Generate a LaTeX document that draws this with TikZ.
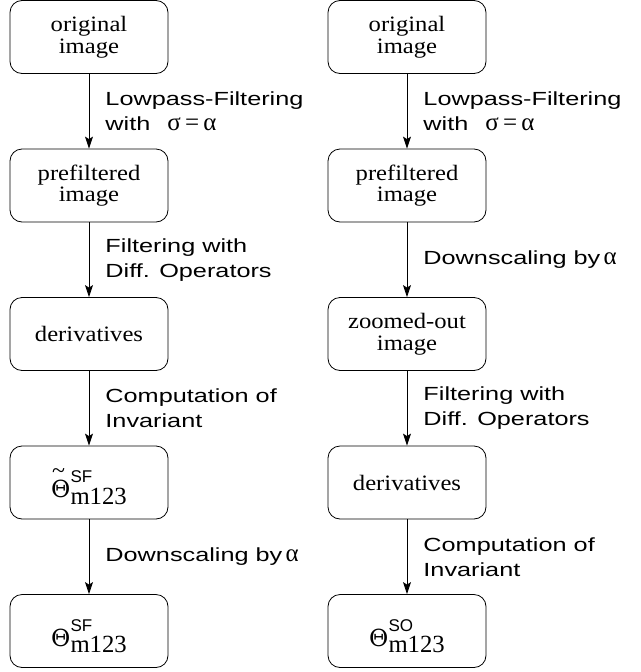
\documentclass[tikz,border=0pt]{standalone}
\usepackage{fontspec}
\setmainfont{Liberation Serif}
\newfontfamily\boxfont[FakeStretch=1.12]{Liberation Serif}
\newfontfamily\labfont[FakeStretch=1.33]{Liberation Sans}
\newfontfamily\grkfont{Liberation Serif}
\newfontfamily\thfont{DejaVu Serif}
\newfontfamily\supfont{Liberation Sans}
\usetikzlibrary{arrows.meta}
\newcommand{\gk}[1]{{\grkfont\fontsize{25}{25}\selectfont #1}}
\newcommand{\mytheta}[1]{{\thfont\fontsize{23.5}{24}\selectfont Θ}\rlap{\raisebox{15pt}{\supfont\fontsize{17}{17}\selectfont #1}}\raisebox{-6.7pt}{\grkfont\fontsize{24.7}{25}\selectfont m123}}
\newcommand{\mytilde}{\rlap{\raisebox{19.5pt}{\hspace{1pt}\grkfont\fontsize{24}{24}\selectfont\char"7E}}}
\tikzset{
  stepbox/.style={draw, rounded corners=12pt, minimum width=158pt, minimum height=73pt,
    line width=0.8pt, inner sep=0pt, align=center,
    font=\boxfont\fontsize{22}{21.7}\selectfont},
  thetabox/.style={stepbox, text height=30pt, text depth=0pt},
  arr/.style={line width=0.9pt, -{Stealth[length=12pt, width=8pt, inset=2.5pt]}},
  lab/.style={anchor=west, xshift=16pt, align=left, inner sep=0pt,
    font=\labfont\fontsize{19}{25}\selectfont}
}
\begin{document}
\begin{tikzpicture}[x=1pt, y=1pt]
\useasboundingbox (0,0) rectangle (640,-672);
% left column
\node[stepbox] (L1) at (89,-37) {original\\image};
\node[stepbox] (L2) at (89,-185.5) {prefiltered\\image};
\node[stepbox] (L3) at (89,-334) {derivatives};
\node[thetabox] (L4) at (89,-482.5) {\mytilde\mytheta{SF}};
\node[thetabox] (L5) at (89,-631) {\mytheta{SF}};
% right column
\node[stepbox] (R1) at (407,-37) {original\\image};
\node[stepbox] (R2) at (407,-185.5) {prefiltered\\image};
\node[stepbox] (R3) at (407,-334) {zoomed-out\\image};
\node[stepbox] (R4) at (407,-482.5) {derivatives};
\node[thetabox] (R5) at (407,-631) {\mytheta{SO}};
% left arrows
\draw[arr] (L1) -- node[lab] {Lowpass-Filtering\\with\hspace{0.9em}\gk{σ\,=\,α}} (L2);
\draw[arr] (L2) -- node[lab] {Filtering with\\Diff. Operators} (L3);
\draw[arr] (L3) -- node[lab] {Computation of\\Invariant} (L4);
\draw[arr] (L4) -- node[lab] {Downscaling by\,\gk{α}} (L5);
% right arrows
\draw[arr] (R1) -- node[lab] {Lowpass-Filtering\\with\hspace{0.9em}\gk{σ\,=\,α}} (R2);
\draw[arr] (R2) -- node[lab] {Downscaling by\,\gk{α}} (R3);
\draw[arr] (R3) -- node[lab] {Filtering with\\Diff. Operators} (R4);
\draw[arr] (R4) -- node[lab] {Computation of\\Invariant} (R5);
\end{tikzpicture}
\end{document}
